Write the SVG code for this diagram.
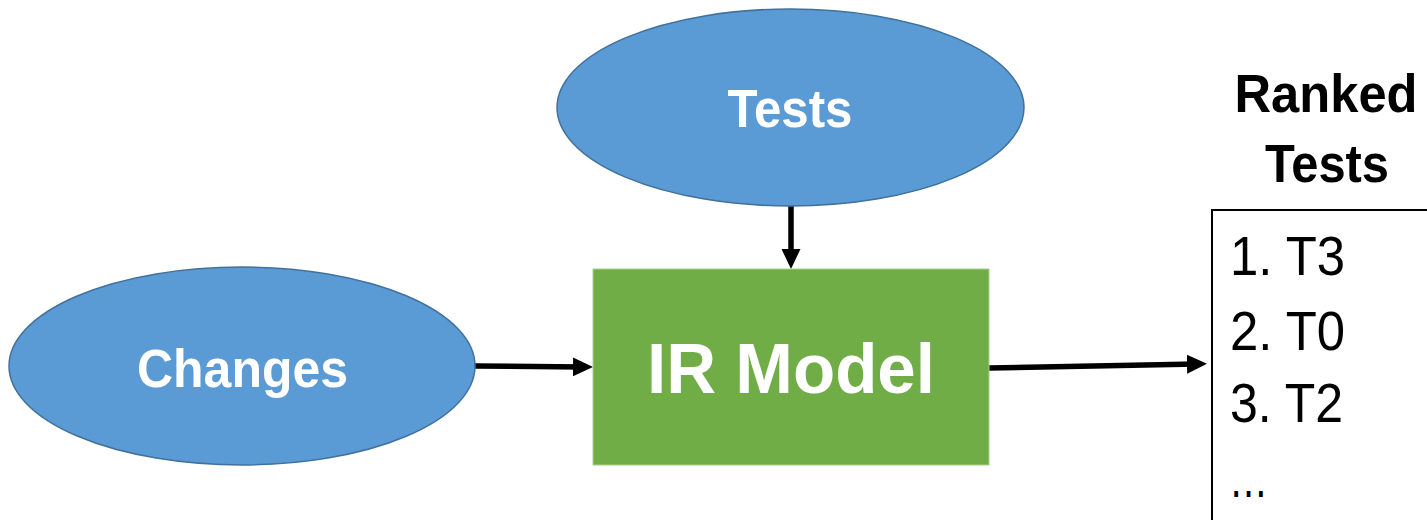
<svg xmlns="http://www.w3.org/2000/svg" width="1427" height="520" viewBox="0 0 1427 520">
  <style>
    .ell { fill: #5B9BD5; stroke: #41719C; stroke-width: 1.5; }
    .box { fill: #70AD47; stroke: #A9D18E; stroke-width: 1; }
    .lbl { font-family: "Liberation Sans", Arial, sans-serif; font-weight: bold; fill: #FFFFFF; text-anchor: middle; }
    .hdr { font-family: "Liberation Sans", Arial, sans-serif; font-weight: bold; fill: #000000; text-anchor: middle; font-size: 53px; }
    .item { font-family: "Liberation Sans", Arial, sans-serif; fill: #000000; font-size: 56px; }
    .conn { stroke: #000000; stroke-width: 5.5; fill: none; marker-end: url(#arrow); }
  </style>
  <defs>
    <marker id="arrow" viewBox="0 0 20 19" markerWidth="20" markerHeight="19" refX="10" refY="9.5" orient="auto" markerUnits="userSpaceOnUse">
      <path d="M0,0 L20,9.5 L0,19 Z" fill="#000000"/>
    </marker>
  </defs>
  <rect x="0" y="0" width="1427" height="520" fill="#FFFFFF"/>

  <g id="connectors">
    <line class="conn" x1="791" y1="206" x2="791" y2="259"/>
    <line class="conn" x1="475" y1="366" x2="583" y2="367"/>
    <line class="conn" x1="989" y1="368" x2="1197" y2="364"/>
  </g>

  <g id="node-tests">
    <ellipse class="ell" cx="790.5" cy="107.5" rx="233.5" ry="98.5"/>
    <text class="lbl" x="790" y="127" font-size="53" textLength="125" lengthAdjust="spacingAndGlyphs">Tests</text>
  </g>

  <g id="node-changes">
    <ellipse class="ell" cx="242" cy="366" rx="233" ry="99"/>
    <text class="lbl" x="242.5" y="387" font-size="53" textLength="211" lengthAdjust="spacingAndGlyphs">Changes</text>
  </g>

  <g id="node-irmodel">
    <rect class="box" x="593" y="269" width="396" height="196"/>
    <text class="lbl" x="791" y="393" font-size="71" textLength="288" lengthAdjust="spacingAndGlyphs">IR Model</text>
  </g>

  <g id="node-ranked">
    <text class="hdr" x="1326" y="112" textLength="183" lengthAdjust="spacingAndGlyphs">Ranked</text>
    <text class="hdr" x="1327" y="182" textLength="124" lengthAdjust="spacingAndGlyphs">Tests</text>
    <path d="M1212,522 V210 H1430" fill="none" stroke="#000000" stroke-width="2"/>
    <text class="item" x="1230" y="275" textLength="115" lengthAdjust="spacingAndGlyphs">1. T3</text>
    <text class="item" x="1230" y="350" textLength="115" lengthAdjust="spacingAndGlyphs">2. T0</text>
    <text class="item" x="1230" y="422" textLength="113" lengthAdjust="spacingAndGlyphs">3. T2</text>
    <text class="item" x="1229" y="497" font-size="68" textLength="39" lengthAdjust="spacingAndGlyphs">…</text>
  </g>
</svg>
